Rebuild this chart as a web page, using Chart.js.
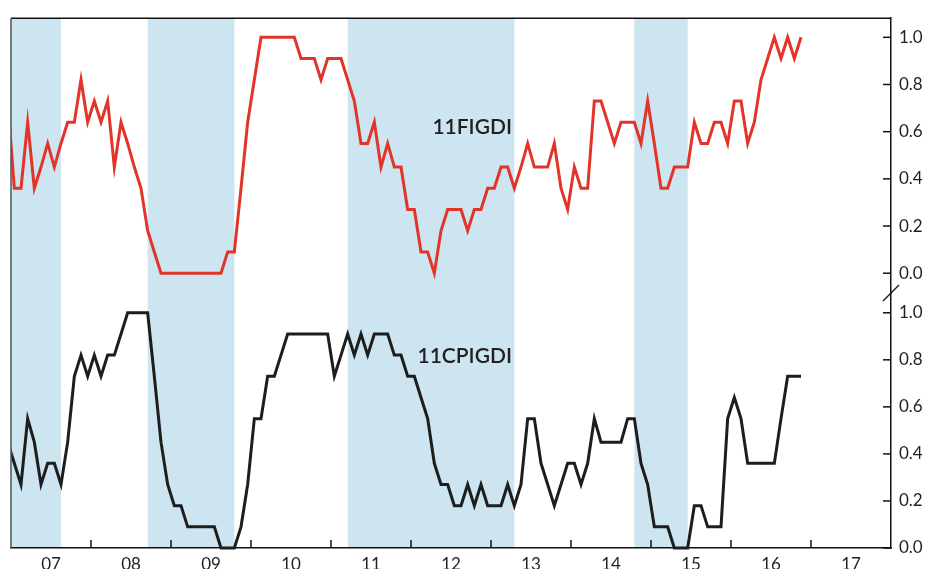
<!DOCTYPE html>
<html>
<head>
<meta charset="utf-8">
<script src="https://cdn.jsdelivr.net/npm/chart.js@4.4.1/dist/chart.umd.min.js"></script>
<style>
  html, body { margin: 0; padding: 0; background: #fff; overflow: hidden; }
  #wrap { width: 925px; height: 569px; }
</style>
</head>
<body>
<div id="wrap"><canvas id="chart" width="925" height="569"></canvas></div>
<script>
// monthly diffusion index readings, first value is Dec 2006 (just off the left edge)
const firstMonth = "2006-12";

const figdi = [
  0.73, 0.36, 0.36, 0.64, 0.36, 0.45, 0.55, 0.45, 0.55, 0.64,
  0.64, 0.82, 0.64, 0.73, 0.64, 0.73, 0.45, 0.64, 0.55, 0.45,
  0.36, 0.18, 0.09, 0, 0, 0, 0, 0, 0, 0,
  0, 0, 0, 0.09, 0.09, 0.36, 0.64, 0.82, 1, 1,
  1, 1, 1, 1, 0.91, 0.91, 0.91, 0.82, 0.91, 0.91,
  0.91, 0.82, 0.73, 0.55, 0.55, 0.64, 0.45, 0.55, 0.45, 0.45,
  0.27, 0.27, 0.09, 0.09, 0, 0.18, 0.27, 0.27, 0.27, 0.18,
  0.27, 0.27, 0.36, 0.36, 0.45, 0.45, 0.36, 0.45, 0.55, 0.45,
  0.45, 0.45, 0.55, 0.36, 0.27, 0.45, 0.36, 0.36, 0.73, 0.73,
  0.64, 0.55, 0.64, 0.64, 0.64, 0.55, 0.73, 0.55, 0.36, 0.36,
  0.45, 0.45, 0.45, 0.64, 0.55, 0.55, 0.64, 0.64, 0.55, 0.73,
  0.73, 0.55, 0.64, 0.82, 0.91, 1, 0.91, 1, 0.91, 1
];

const cpigdi = [
  0.45, 0.36, 0.27, 0.55, 0.45, 0.27, 0.36, 0.36, 0.27, 0.45,
  0.73, 0.82, 0.73, 0.82, 0.73, 0.82, 0.82, 0.91, 1, 1,
  1, 1, 0.73, 0.45, 0.27, 0.18, 0.18, 0.09, 0.09, 0.09,
  0.09, 0.09, 0, 0, 0, 0.09, 0.27, 0.55, 0.55, 0.73,
  0.73, 0.82, 0.91, 0.91, 0.91, 0.91, 0.91, 0.91, 0.91, 0.73,
  0.82, 0.91, 0.82, 0.91, 0.82, 0.91, 0.91, 0.91, 0.82, 0.82,
  0.73, 0.73, 0.64, 0.55, 0.36, 0.27, 0.27, 0.18, 0.18, 0.27,
  0.18, 0.27, 0.18, 0.18, 0.18, 0.27, 0.18, 0.27, 0.55, 0.55,
  0.36, 0.27, 0.18, 0.27, 0.36, 0.36, 0.27, 0.36, 0.55, 0.45,
  0.45, 0.45, 0.45, 0.55, 0.55, 0.36, 0.27, 0.09, 0.09, 0.09,
  0, 0, 0, 0.18, 0.18, 0.09, 0.09, 0.09, 0.55, 0.64,
  0.55, 0.36, 0.36, 0.36, 0.36, 0.36, 0.55, 0.73, 0.73, 0.73
];

const seriesNames = ["11FIGDI", "11CPIGDI"];
const yearLabels = ["07", "08", "09", "10", "11", "12", "13", "14", "15", "16", "17"];
const yTicks = [0, 0.2, 0.4, 0.6, 0.8, 1.0];

// shaded periods (month the band starts / ends)
const shadeStart = ["2006-06", "2008-09", "2011-03", "2014-10"];
const shadeEnd = ["2007-08", "2009-10", "2013-04", "2015-06"];

// "2008-09" -> middle of that month as a decimal year
function monthToX(s) {
    const [y, m] = s.split("-").map(Number);
    return y + (m - 0.5) / 12;
}

// list of months for the series
const months = [];
{
    let [y, m] = firstMonth.split("-").map(Number);
    for (let i = 0; i < figdi.length; i++) {
        months.push(y + "-" + String(m).padStart(2, "0"));
        m++;
        if (m > 12) { m = 1; y++; }
    }
}

const firstYear = 2000 + Number(yearLabels[0]);
const lastYear = 2000 + Number(yearLabels[yearLabels.length - 1]) + 1;

const tickFont = { family: "Lato", size: 17 };
const tickColor = "#231f20";

// bands behind everything, then borders / inward ticks / labels on top
const panelPlugin = {
    id: "panels",
    beforeDraw(chart) {
        const { ctx, chartArea: a, scales: { x } } = chart;
        ctx.save();
        ctx.fillStyle = "#cde4f1";
        shadeStart.forEach((s, i) => {
            const x0 = Math.max(x.getPixelForValue(monthToX(s)), a.left);
            const x1 = x.getPixelForValue(monthToX(shadeEnd[i]));
            ctx.fillRect(x0, a.top, x1 - x0, a.bottom - a.top);
        });
        ctx.restore();
    },
    afterDraw(chart) {
        const { ctx, chartArea: a, scales } = chart;
        ctx.save();
        ctx.lineWidth = 1.5;

        // top frame line
        ctx.strokeStyle = "#111";
        ctx.beginPath();
        ctx.moveTo(a.left, a.top);
        ctx.lineTo(a.right, a.top);
        ctx.stroke();

        // left edge
        ctx.strokeStyle = "#4b555c";
        ctx.beginPath();
        ctx.moveTo(a.left, a.top);
        ctx.lineTo(a.left, a.bottom);
        ctx.stroke();

        // inward ticks on the right axes
        ctx.strokeStyle = "#111";
        ["yF", "yC"].forEach(id => {
            yTicks.forEach(v => {
                const py = scales[id].getPixelForValue(v);
                ctx.beginPath();
                ctx.moveTo(a.right - 8, py);
                ctx.lineTo(a.right, py);
                ctx.stroke();
            });
        });

        // inward ticks at year boundaries
        yearLabels.slice(1).forEach(l => {
            const px = scales.x.getPixelForValue(2000 + Number(l));
            ctx.beginPath();
            ctx.moveTo(px, a.bottom - 8);
            ctx.lineTo(px, a.bottom);
            ctx.stroke();
        });

        // axis break mark between the panels
        const yb = scales.yC.top;
        ctx.lineWidth = 1.2;
        ctx.beginPath();
        ctx.moveTo(a.right - 8, yb + 8);
        ctx.lineTo(a.right + 8, yb - 8);
        ctx.stroke();

        // series labels
        ctx.fillStyle = "#231f20";
        ctx.font = "600 21px Lato";
        ctx.textAlign = "right";
        ctx.textBaseline = "alphabetic";
        ctx.fillText(seriesNames[0], a.left + 501, scales.yF.getPixelForValue(0.64) + 12);
        ctx.fillText(seriesNames[1], a.left + 501, scales.yC.getPixelForValue(0.82) + 8);
        ctx.restore();
    }
};

function yAxis(min, max, weight) {
    return {
        type: "linear",
        position: "right",
        stack: "panels",
        stackWeight: weight,
        min: min,
        max: max,
        grid: { display: false, drawTicks: false },
        border: { display: true, color: "#111", width: 1.5 },
        afterBuildTicks: s => { s.ticks = yTicks.map(v => ({ value: v })); },
        afterFit: s => { s.width = 34; },
        ticks: {
            font: tickFont,
            color: tickColor,
            padding: 8,
            callback: v => v.toFixed(1)
        }
    };
}

const ctx = document.getElementById("chart").getContext("2d");
new Chart(ctx, {
    type: "line",
    data: {
        datasets: [
            {
                label: seriesNames[0],
                data: months.map((m, i) => ({ x: monthToX(m), y: figdi[i] })),
                yAxisID: "yF",
                borderColor: "#e3342a",
                borderWidth: 3,
                pointRadius: 0,
                tension: 0,
                clip: { left: 0, right: 0, top: 5, bottom: 5 }
            },
            {
                label: seriesNames[1],
                data: months.map((m, i) => ({ x: monthToX(m), y: cpigdi[i] })),
                yAxisID: "yC",
                borderColor: "#1d1d1b",
                borderWidth: 3,
                pointRadius: 0,
                tension: 0,
                clip: { left: 0, right: 0, top: 5, bottom: 5 }
            }
        ]
    },
    options: {
        responsive: false,
        animation: false,
        layout: { padding: { left: 11, top: 14, right: 0, bottom: 0 } },
        plugins: {
            legend: { display: false },
            tooltip: { enabled: false }
        },
        scales: {
            x: {
                type: "linear",
                min: firstYear,
                max: lastYear,
                grid: { display: false, drawTicks: false },
                border: { display: true, color: "#111", width: 1.5 },
                afterBuildTicks: s => { s.ticks = yearLabels.map(l => ({ value: 2000 + Number(l) + 0.5 })); },
                afterFit: s => { s.height = 21; },
                ticks: {
                    font: tickFont,
                    color: tickColor,
                    padding: 6,
                    maxRotation: 0,
                    autoSkip: false,
                    callback: v => yearLabels[Math.floor(v) - firstYear]
                }
            },
            yF: yAxis(-0.084, 1.081, 277),
            yC: yAxis(0, 1.084, 257)
        }
    },
    plugins: [panelPlugin]
});
</script>
</body>
</html>
